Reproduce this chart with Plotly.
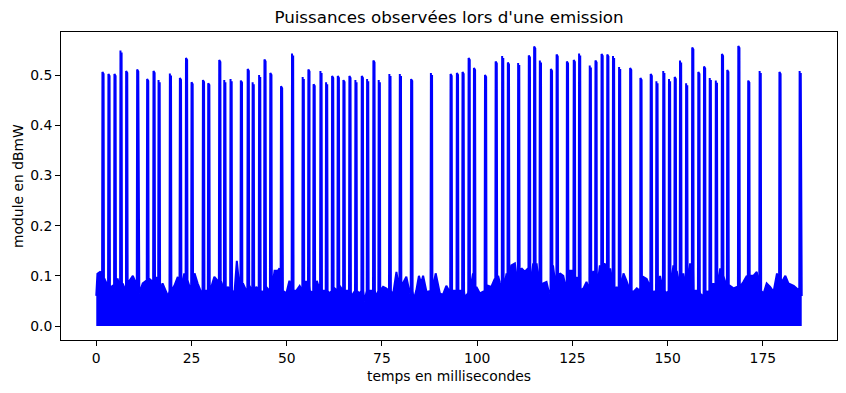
import plotly.graph_objects as go

# Pulse emission times (ms) and peak levels
pulse_t = [1.67, 3.24, 4.82, 6.4, 7.89, 10.78, 13.4, 15.07, 16.4, 19.37, 22.0, 23.6,
           25.06, 28.05, 29.44, 32.33, 33.65, 35.3, 38.0, 39.8, 41.1, 42.8, 44.2, 45.74,
           48.55, 51.44, 54.24, 55.73, 57.1, 58.9, 60.38, 61.96, 63.45, 64.93, 66.5, 68.08,
           69.75, 71.15, 72.8, 74.2, 77.0, 79.74, 82.7, 87.9, 93.06, 94.72, 96.2, 97.8,
           99.2, 102.1, 104.9, 106.6, 108.1, 110.8, 113.6, 115.0, 116.5, 119.4, 120.9, 123.6,
           125.4, 126.8, 129.6, 131.1, 132.7, 134.2, 135.7, 137.3, 140.2, 142.9, 145.6, 147.1,
           148.9, 150.4, 151.9, 153.3, 154.9, 156.5, 158.1, 159.6, 161.1, 162.7, 164.3, 165.7,
           168.6, 171.2, 174.2, 179.4, 184.7]
pulse_peak = [0.506, 0.502, 0.502, 0.549, 0.508, 0.511, 0.492, 0.508, 0.49, 0.503, 0.494, 0.534,
              0.486, 0.49, 0.484, 0.53, 0.49, 0.492, 0.489, 0.512, 0.486, 0.5, 0.531, 0.504,
              0.478, 0.543, 0.496, 0.511, 0.482, 0.508, 0.486, 0.498, 0.498, 0.49, 0.498, 0.49,
              0.498, 0.492, 0.529, 0.49, 0.502, 0.502, 0.492, 0.504, 0.502, 0.504, 0.506, 0.534,
              0.514, 0.5, 0.527, 0.538, 0.525, 0.524, 0.539, 0.557, 0.529, 0.512, 0.541, 0.527,
              0.53, 0.543, 0.519, 0.529, 0.542, 0.541, 0.538, 0.516, 0.514, 0.494, 0.502, 0.488,
              0.508, 0.492, 0.496, 0.529, 0.484, 0.555, 0.506, 0.517, 0.494, 0.489, 0.542, 0.51,
              0.558, 0.489, 0.508, 0.506, 0.508]

# Upper envelope of the noise floor (ms, level)
noise_t = [0.0, 0.3, 1.0, 1.5, 2.1, 3.0, 3.9, 4.3, 5.2, 5.6, 6.5, 6.9, 7.8, 8.7, 9.6,
           10.4, 11.3, 12.2, 13.1, 13.9, 14.8, 15.7, 16.6, 17.4, 18.3, 18.9, 19.6, 20.5,
           21.4, 22.3, 23.1, 24.0, 24.9, 25.8, 26.6, 27.5, 28.4, 29.3, 30.1, 31.0, 31.9,
           32.8, 33.7, 34.5, 35.4, 36.3, 36.9, 37.6, 38.5, 39.4, 40.2, 41.1, 42.0, 42.9,
           43.7, 44.6, 45.5, 46.8, 47.7, 48.1, 49.0, 49.9, 50.7, 51.6, 52.5, 53.4, 54.2,
           55.1, 56.0, 56.9, 57.9, 59.1, 60.4, 61.2, 62.6, 63.9, 64.8, 66.1, 66.9, 68.3,
           69.1, 70.4, 71.3, 72.6, 73.5, 74.4, 75.3, 76.1, 77.0, 77.9, 78.8, 79.7, 80.5,
           81.4, 82.3, 83.3, 84.0, 84.7, 85.3, 85.8, 86.7, 88.0, 89.1, 90.2, 91.0, 91.9,
           92.8, 94.1, 95.4, 96.7, 97.6, 98.1, 98.9, 99.8, 100.7, 101.6, 102.9, 103.7,
           104.6, 105.5, 106.8, 107.7, 109.0, 109.9, 110.8, 111.6, 112.5, 113.4, 114.7,
           115.6, 116.5, 117.3, 118.2, 118.9, 119.9, 120.8, 121.7, 122.6, 123.5, 124.3,
           125.2, 126.1, 127.0, 127.9, 128.7, 129.6, 130.5, 131.4, 132.2, 133.1, 134.0,
           134.9, 135.7, 136.6, 137.5, 138.4, 139.2, 140.1, 141.0, 141.9, 142.8, 143.6,
           144.5, 145.4, 146.3, 147.1, 148.0, 148.9, 149.8, 150.6, 151.5, 152.4, 153.3,
           154.1, 155.0, 155.9, 156.8, 157.6, 158.5, 159.4, 160.3, 161.1, 162.0, 162.9,
           163.8, 164.7, 165.5, 166.4, 167.3, 168.2, 169.0, 169.9, 170.8, 171.7, 172.5,
           173.4, 174.3, 175.2, 176.0, 176.9, 177.8, 178.7, 180.0, 180.9, 181.7, 183.1,
           183.9, 184.8, 185.2]
noise_max = [0.06, 0.104, 0.108, 0.106, 0.095, 0.08, 0.078, 0.08, 0.082, 0.095, 0.093, 0.085,
             0.075, 0.09, 0.1, 0.085, 0.065, 0.085, 0.09, 0.094, 0.088, 0.098, 0.1, 0.085,
             0.068, 0.058, 0.065, 0.08, 0.098, 0.085, 0.105, 0.09, 0.068, 0.105, 0.085, 0.068,
             0.055, 0.07, 0.075, 0.098, 0.09, 0.088, 0.09, 0.078, 0.078, 0.068, 0.13, 0.075,
             0.085, 0.07, 0.08, 0.078, 0.078, 0.07, 0.068, 0.078, 0.07, 0.11, 0.11, 0.115,
             0.07, 0.065, 0.09, 0.09, 0.07, 0.08, 0.098, 0.09, 0.08, 0.065, 0.09, 0.058,
             0.068, 0.065, 0.075, 0.08, 0.065, 0.07, 0.058, 0.065, 0.065, 0.049, 0.065, 0.07,
             0.058, 0.068, 0.078, 0.075, 0.08, 0.062, 0.108, 0.065, 0.085, 0.098, 0.065, 0.052,
             0.07, 0.1, 0.085, 0.1, 0.068, 0.068, 0.105, 0.065, 0.062, 0.08, 0.068, 0.07,
             0.07, 0.058, 0.065, 0.1, 0.105, 0.078, 0.065, 0.068, 0.08, 0.078, 0.094, 0.1,
             0.108, 0.105, 0.121, 0.125, 0.11, 0.115, 0.108, 0.115, 0.125, 0.125, 0.11, 0.085,
             0.088, 0.065, 0.121, 0.121, 0.105, 0.1, 0.09, 0.11, 0.11, 0.098, 0.08, 0.075,
             0.088, 0.1, 0.11, 0.121, 0.121, 0.125, 0.121, 0.115, 0.098, 0.078, 0.09, 0.105,
             0.09, 0.09, 0.068, 0.075, 0.078, 0.098, 0.094, 0.078, 0.068, 0.088, 0.1, 0.078,
             0.065, 0.085, 0.121, 0.11, 0.115, 0.105, 0.105, 0.125, 0.11, 0.07, 0.065, 0.058,
             0.068, 0.075, 0.085, 0.1, 0.115, 0.098, 0.078, 0.08, 0.075, 0.078, 0.078, 0.088,
             0.1, 0.1, 0.1, 0.108, 0.065, 0.065, 0.085, 0.078, 0.068, 0.105, 0.088, 0.1,
             0.085, 0.08, 0.075, 0.065, 0.06]

x_ticks = [0, 25, 50, 75, 100, 125, 150, 175]
y_ticks = [0.0, 0.1, 0.2, 0.3, 0.4, 0.5]

TITLE = "Puissances observées lors d'une emission"
XLABEL = "temps en millisecondes"
YLABEL = "module en dBmW"

# --- build the signal trace: noise envelope + narrow flat-topped pulses ---
RISE, TOP_START, TOP_END, FALL = 0.15, 0.05, 0.25, 0.35  # pulse shape offsets (ms)
pts = list(zip(noise_t, noise_max))
for t, p in zip(pulse_t, pulse_peak):
    pts += [(t - RISE, 0.07), (t - TOP_START, p), (t + TOP_END, p - 0.004), (t + FALL, 0.07)]
pts.sort(key=lambda a: a[0])
xs = [a[0] for a in pts]
ys = [a[1] for a in pts]

# matplotlib-style 5% margins
xmin, xmax = min(xs), max(xs)
ymin, ymax = 0.0, max(ys)
dx, dy = 0.05 * (xmax - xmin), 0.05 * (ymax - ymin)

fig = go.Figure()
fig.add_trace(go.Scatter(x=xs, y=ys, mode="lines", fill="tozeroy",
                         fillcolor="#0000ff", line=dict(color="#0000ff", width=2),
                         hoverinfo="skip", showlegend=False))

FONT = "DejaVu Sans"
axis_common = dict(showgrid=False, zeroline=False, showline=True, mirror=True,
                   linecolor="black", linewidth=1, ticks="outside", ticklen=5,
                   tickwidth=1, tickcolor="black",
                   tickfont=dict(family=FONT, size=13.9, color="black"))
fig.update_xaxes(range=[xmin - dx, xmax + dx], tickvals=x_ticks,
                 ticktext=[str(v) for v in x_ticks], **axis_common)
fig.update_yaxes(range=[ymin - dy, ymax + dy], tickvals=y_ticks,
                 ticktext=[f"{v:.1f}" for v in y_ticks], **axis_common)

fig.update_layout(
    width=846, height=393,
    margin=dict(l=61, r=9, t=32, b=53),
    paper_bgcolor="white", plot_bgcolor="white",
    title=dict(text=TITLE, x=0.5 * (61 + 837) / 846, xanchor="center",
               y=1 - 17 / 393, yanchor="middle", yref="container",
               font=dict(family=FONT, size=16.7, color="black")),
    annotations=[
        dict(text=XLABEL, xref="paper", yref="paper", x=0.5, y=(340 - 376) / 308,
             xanchor="center", yanchor="middle", showarrow=False,
             font=dict(family=FONT, size=13.9, color="black")),
        dict(text=YLABEL, xref="paper", yref="paper", x=(18 - 61) / 776, y=0.5,
             xanchor="center", yanchor="middle", showarrow=False, textangle=-90,
             font=dict(family=FONT, size=13.9, color="black")),
    ],
)

fig.write_html("out.html")
